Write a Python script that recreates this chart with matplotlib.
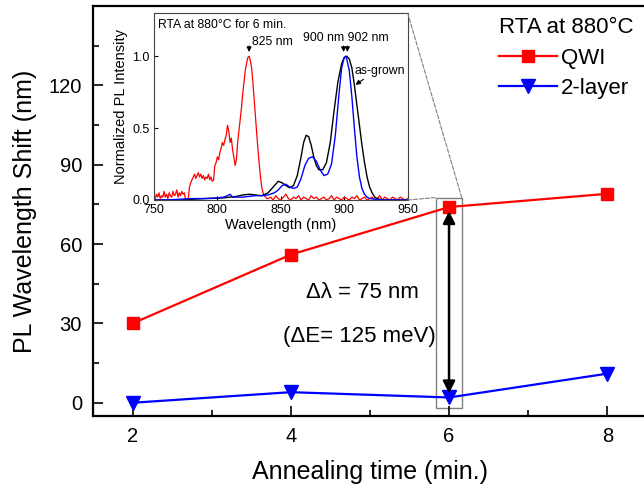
import matplotlib

matplotlib.use("Agg")
import matplotlib.pyplot as plt
import numpy as np
from matplotlib.patches import Rectangle, ConnectionPatch
from matplotlib.ticker import MultipleLocator

plt.rcParams["font.family"] = ["Liberation Sans", "DejaVu Sans"]

# main panel data
anneal_time = [2, 4, 6, 8]
shift_qwi = [30, 56, 74, 79]
shift_2layer = [0, 4, 2, 11]

# inset spectra (normalized PL, RTA 880 C, 6 min)
wl_asgrown = [750, 760, 770, 780, 790, 800, 805, 810, 815, 820, 825, 830, 835, 840,
              843, 846, 848, 851, 854, 857, 860, 863, 866, 868, 870, 872, 874, 876,
              878, 880, 883, 886, 889, 892, 895, 898, 900, 902, 904, 906, 908, 910,
              912, 914, 916, 918, 920, 922, 924, 926, 930, 940, 950]
pl_asgrown = [0.0, 0.0, 0.0, 0.005, 0.01, 0.012, 0.015, 0.02, 0.025, 0.035, 0.04, 0.035,
              0.03, 0.05, 0.08, 0.11, 0.13, 0.12, 0.10, 0.085, 0.10, 0.17, 0.30, 0.40,
              0.45, 0.44, 0.38, 0.30, 0.24, 0.21, 0.21, 0.26, 0.40, 0.62, 0.82, 0.95,
              0.99, 1.0, 0.98, 0.92, 0.80, 0.66, 0.52, 0.38, 0.26, 0.16, 0.09, 0.05,
              0.02, 0.01, 0.0, 0.0, 0.0]

wl_2layer = [750, 760, 770, 780, 790, 800, 805, 808, 810, 812, 815, 820, 825, 830, 835,
             840, 845, 848, 851, 854, 857, 860, 863, 866, 869, 872, 875, 878, 881, 884,
             887, 890, 893, 896, 898, 900, 901, 902, 904, 906, 908, 910, 912, 914, 916,
             918, 920, 925, 930, 950]
pl_2layer = [0.0, 0.0, 0.005, 0.01, 0.01, 0.015, 0.02, 0.03, 0.04, 0.02, 0.02, 0.02,
             0.025, 0.03, 0.03, 0.035, 0.05, 0.07, 0.10, 0.11, 0.09, 0.08, 0.09, 0.15,
             0.24, 0.29, 0.30, 0.27, 0.21, 0.17, 0.18, 0.25, 0.45, 0.75, 0.92, 0.99,
             1.0, 0.98, 0.90, 0.72, 0.50, 0.30, 0.16, 0.08, 0.04, 0.02, 0.01, 0.005,
             0.0, 0.0]

wl_qwi = list(range(750, 841)) + list(range(842, 951, 2))
pl_qwi = [0.03, 0.01, 0.04, 0.02, 0.05, 0.01, 0.03, 0.02, 0.06, 0.02,
          0.04, 0.01, 0.05, 0.03, 0.02, 0.06, 0.03, 0.04, 0.07, 0.02,
          0.05, 0.03, 0.06, 0.04, 0.05, 0.0, 0.0, 0.0, 0.09, 0.12,
          0.14, 0.16, 0.18, 0.15, 0.17, 0.19, 0.16, 0.18, 0.15, 0.17,
          0.14, 0.16, 0.15, 0.18, 0.14, 0.16, 0.13, 0.14, 0.24, 0.26,
          0.30, 0.28, 0.33, 0.36, 0.40, 0.38, 0.42, 0.45, 0.52, 0.48,
          0.40, 0.43, 0.35, 0.30, 0.24, 0.28, 0.40, 0.48, 0.56, 0.64,
          0.74, 0.82, 0.90, 0.95, 0.99, 1.0, 0.97, 0.92, 0.82, 0.70,
          0.58, 0.46, 0.35, 0.25, 0.16, 0.09, 0.05, 0.03, 0.02, 0.01,
          0.01,
          0.02, 0.0, 0.03, 0.01, 0.0, 0.02, 0.04, 0.01, 0.0, 0.02,
          0.01, 0.03, 0.0, 0.02, 0.01, 0.0, 0.03, 0.01, 0.02, 0.0,
          0.01, 0.02, 0.0, 0.01, 0.03, 0.0, 0.02, 0.01, 0.0, 0.02,
          0.01, 0.0, 0.02, 0.01, 0.03, 0.0, 0.01, 0.02, 0.0, 0.01,
          0.02, 0.0, 0.01, 0.03, 0.0, 0.02, 0.01, 0.0, 0.02, 0.01,
          0.0, 0.02, 0.01, 0.0, 0.01]

fig = plt.figure(figsize=(6.44, 4.92), dpi=100)
ax = fig.add_axes([0.1444, 0.1545, 0.86, 0.8333])

ax.plot(anneal_time, shift_qwi, "-s", color="red", lw=1.6, ms=8, label="QWI")
ax.plot(anneal_time, shift_2layer, "-v", color="blue", lw=1.6, ms=10, label="2-layer")

ax.set_xlim(1.5, 8.5)
ax.set_ylim(-5, 150)
ax.xaxis.set_major_locator(MultipleLocator(2))
ax.xaxis.set_minor_locator(MultipleLocator(1))
ax.yaxis.set_minor_locator(MultipleLocator(15))
ax.set_yticks([0, 30, 60, 90, 120])
ax.tick_params(which="both", direction="in", top=False, right=False, labelsize=14.5, width=1.2)
ax.tick_params(which="major", length=7, pad=8)
ax.tick_params(which="minor", length=4)
for s in ["left", "bottom", "top"]:
    ax.spines[s].set_linewidth(1.6)
ax.spines["right"].set_visible(False)
ax.set_xlabel("Annealing time (min.)", fontsize=18, labelpad=10)
ax.set_ylabel("PL Wavelength Shift (nm)", fontsize=18, labelpad=8)

leg = ax.legend(title="RTA at 880\u00b0C", loc="upper left", bbox_to_anchor=(0.733, 0.972),
                frameon=False, fontsize=16, title_fontsize=16, handlelength=2.6,
                handletextpad=0.2, labelspacing=0.42, borderaxespad=0.0, borderpad=0.0)
leg._legend_box.align = "left"

# zoom box around 6 min and the shift arrow
box = Rectangle((5.84, -1.9), 0.32, 79.5, fill=False, ec="gray", lw=1.0)
ax.add_patch(box)
ax.annotate("", xy=(6, 2.5), xytext=(6, 73.5),
            arrowprops=dict(arrowstyle="<|-|>", color="black", lw=1.8, mutation_scale=18))
ax.text(4.9, 41.6, "\u0394\u03bb = 75 nm", fontsize=16, ha="center", va="center")
ax.text(4.87, 25.1, "(\u0394E= 125 meV)", fontsize=16, ha="center", va="center")

# inset
ins = fig.add_axes([0.239, 0.5935, 0.394, 0.380])
ins.plot(wl_qwi, pl_qwi, color="red", lw=0.9)
ins.plot(wl_asgrown, pl_asgrown, color="black", lw=1.0)
ins.plot(wl_2layer, pl_2layer, color="blue", lw=1.0)
ins.set_xlim(750, 950)
ins.set_ylim(0, 1.3)
ins.set_xticks([750, 800, 850, 900, 950])
ins.set_yticks([0.0, 0.5, 1.0])
ins.tick_params(direction="in", labelsize=9, length=3)
ins.tick_params(axis="x", pad=3)
ins.tick_params(axis="y", pad=3)
for s in ins.spines.values():
    s.set_color("#444444")
ins.set_xlabel("Wavelength (nm)", fontsize=10.5, labelpad=1)
ins.set_ylabel("Normalized PL Intensity", fontsize=10.5, labelpad=3)
ins.text(753, 1.215, "RTA at 880\u00b0C for 6 min.", fontsize=8.8, va="center")
arrow_kw = dict(arrowstyle="-|>", color="black", lw=0.8, mutation_scale=7)
ins.annotate("", xy=(825, 1.01), xytext=(825, 1.09), arrowprops=arrow_kw)
ins.text(827, 1.1, "825 nm", fontsize=8.8, va="center")
ins.annotate("", xy=(899.5, 1.01), xytext=(899.5, 1.09), arrowprops=arrow_kw)
ins.annotate("", xy=(902.5, 1.01), xytext=(902.5, 1.09), arrowprops=arrow_kw)
ins.text(901, 1.125, "900 nm 902 nm", fontsize=8.8, ha="center", va="center")
ins.text(908, 0.9, "as-grown", fontsize=8.8, va="center")
ins.annotate("", xy=(907, 0.79), xytext=(917, 0.85), arrowprops=arrow_kw)

# dashed guide lines from inset to zoom box
for (xa, ya), (xb, yb) in [((1, 1), (6.16, 77.6)), ((1, 0), (5.84, 77.6))]:
    con = ConnectionPatch(xyA=(xa, ya), coordsA=ins.transAxes, xyB=(xb, yb), coordsB=ax.transData,
                          ls="--", color="gray", lw=0.8)
    fig.add_artist(con)

fig.savefig("out.png", dpi=100)
